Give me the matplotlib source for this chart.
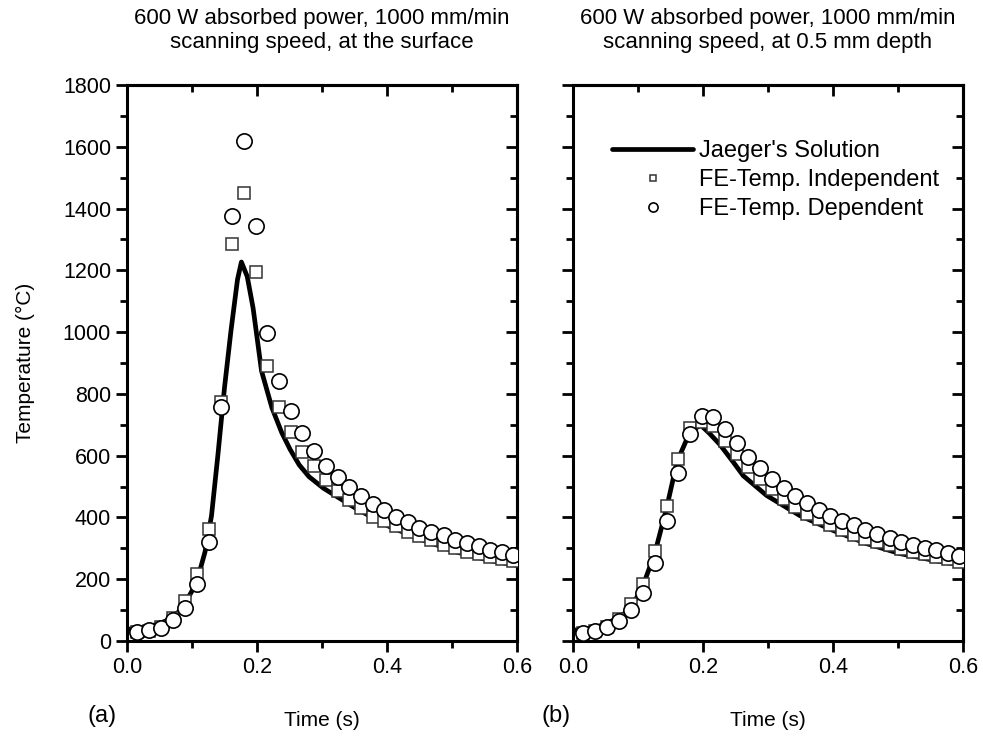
import matplotlib
matplotlib.use("Agg")
import matplotlib.pyplot as plt
from matplotlib.ticker import MultipleLocator

plt.rcParams["font.family"] = ["Liberation Sans", "DejaVu Sans"]

# --- data ---
# sample times of the FE results (s), shared by both panels
t_fe = [0.015, 0.034, 0.052, 0.071, 0.089, 0.107, 0.126, 0.144, 0.162, 0.180,
        0.198, 0.216, 0.234, 0.252, 0.270, 0.288, 0.306, 0.324, 0.342, 0.360,
        0.378, 0.396, 0.414, 0.432, 0.450, 0.468, 0.487, 0.505, 0.523, 0.541,
        0.559, 0.577, 0.594]

# (a) at the surface
t_jaeger_a = [0.0, 0.02, 0.04, 0.06, 0.08, 0.09, 0.10, 0.11, 0.12, 0.13, 0.14,
              0.15, 0.16, 0.17, 0.176, 0.185, 0.194, 0.207, 0.223, 0.238, 0.251,
              0.265, 0.28, 0.302, 0.353, 0.405, 0.456, 0.507, 0.558, 0.60]
T_jaeger_a = [38, 41, 50, 65, 95, 125, 162, 212, 288, 405, 605,
              820, 1005, 1170, 1227, 1180, 1078, 874, 755, 675, 620,
              570, 532, 495, 428, 369, 326, 288, 261, 245]
T_indep_a = [28, 33, 45, 75, 130, 216, 362, 774, 1286, 1449,
             1195, 890, 758, 675, 611, 566, 522, 487, 455, 431,
             403, 388, 371, 353, 339, 326, 310, 302, 288, 280,
             272, 264, 258]
T_dep_a = [30, 35, 43, 68, 107, 183, 320, 758, 1377, 1619,
           1342, 996, 842, 745, 672, 616, 568, 530, 498, 471,
           444, 423, 403, 385, 366, 353, 342, 328, 318, 306,
           296, 288, 277]

# (b) at 0.5 mm depth
t_jaeger_b = [0.0, 0.02, 0.04, 0.06, 0.08, 0.09, 0.107, 0.126, 0.144, 0.16,
              0.179, 0.196, 0.21, 0.226, 0.247, 0.262, 0.298, 0.349, 0.40,
              0.452, 0.503, 0.555, 0.60]
T_jaeger_b = [35, 38, 48, 65, 90, 110, 175, 285, 430, 580,
              672, 700, 672, 636, 578, 535, 471, 406, 358,
              315, 283, 261, 245]
T_indep_b = [25, 32, 46, 72, 120, 186, 290, 436, 589, 691,
             708, 697, 648, 605, 562, 523, 492, 460, 435, 412,
             396, 374, 358, 344, 331, 320, 310, 299, 288, 281,
             272, 265, 256]
T_dep_b = [27, 33, 44, 65, 100, 155, 252, 388, 543, 670,
           729, 724, 686, 641, 597, 559, 525, 496, 468, 446,
           425, 406, 390, 374, 358, 345, 334, 320, 310, 302,
           294, 285, 275]

titles = ["600 W absorbed power, 1000 mm/min\nscanning speed, at the surface",
          "600 W absorbed power, 1000 mm/min\nscanning speed, at 0.5 mm depth"]
panel_tags = ["(a)", "(b)"]
tag_x = [-0.064, -0.044]

fig = plt.figure(figsize=(9.83, 7.36), dpi=100)
ax_a = fig.add_axes([0.1292, 0.1291, 0.3967, 0.7554])
ax_b = fig.add_axes([0.5829, 0.1291, 0.3967, 0.7554])

panels = [
    (ax_a, t_jaeger_a, T_jaeger_a, T_indep_a, T_dep_a),
    (ax_b, t_jaeger_b, T_jaeger_b, T_indep_b, T_dep_b),
]


def style_ticks(axis_obj, **kw):
    axis_obj.tick_params(which="both", width=2, **kw)
    axis_obj.tick_params(which="major", length=8)
    axis_obj.tick_params(which="minor", length=5)


for i, (ax, tj, Tj, Ti, Td) in enumerate(panels):
    ax.plot(tj, Tj, color="black", lw=3.4, solid_capstyle="round",
            label="Jaeger's Solution", zorder=2)
    ax.plot(t_fe, Ti, ls="none", marker="s", ms=8, mfc="white", mec="#333333",
            mew=1.1, label="FE-Temp. Independent", zorder=3)
    ax.plot(t_fe, Td, ls="none", marker="o", ms=11, mfc="white", mec="black",
            mew=1.2, label="FE-Temp. Dependent", zorder=4)

    ax.set_xlim(0, 0.6)
    ax.set_ylim(0, 1800)
    ax.xaxis.set_major_locator(MultipleLocator(0.2))
    ax.xaxis.set_minor_locator(MultipleLocator(0.1))
    ax.yaxis.set_major_locator(MultipleLocator(200))
    ax.yaxis.set_minor_locator(MultipleLocator(100))
    ax.xaxis.set_major_formatter(plt.FormatStrFormatter("%.1f"))

    # outward ticks on bottom/left, inward on top/right
    style_ticks(ax, direction="out", labelsize=15.5)

    sx = ax.secondary_xaxis("top")
    sx.xaxis.set_major_locator(MultipleLocator(0.2))
    sx.xaxis.set_minor_locator(MultipleLocator(0.1))
    style_ticks(sx, direction="in", labeltop=False)
    sy = ax.secondary_yaxis("right")
    sy.yaxis.set_major_locator(MultipleLocator(200))
    sy.yaxis.set_minor_locator(MultipleLocator(100))
    style_ticks(sy, direction="in", labelright=False)

    for s in (ax, sx, sy):
        for spine in s.spines.values():
            spine.set_linewidth(2.2)

    ax.set_xlabel("Time (s)", fontsize=15, labelpad=24)
    ax.set_title(titles[i], fontsize=16, pad=27, linespacing=1.15)
    ax.text(tag_x[i], -0.135, panel_tags[i], transform=ax.transAxes,
            fontsize=17, ha="center", va="center")

ax_a.set_ylabel("Temperature (°C)", fontsize=15, labelpad=20)
ax_b.tick_params(axis="y", labelleft=False)

ax_b.legend(loc="upper left", bbox_to_anchor=(0.077, 0.918), frameon=False,
            fontsize=17, handlelength=3.4, handletextpad=0.25,
            borderaxespad=0.0, labelspacing=0.3, markerscale=0.6)

fig.savefig("out.png", dpi=100)
